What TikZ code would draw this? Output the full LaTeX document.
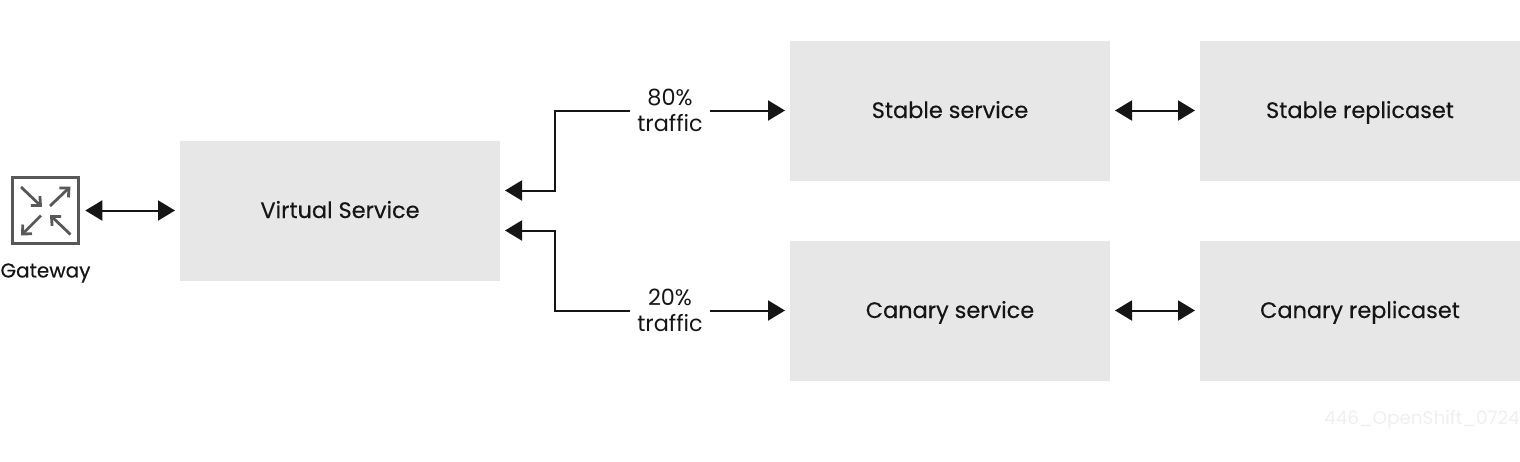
\documentclass[tikz,border=0pt]{standalone}
\usepackage{fontspec}
\setmainfont{Poppins}
\newfontfamily\boldish[FakeBold=0.35]{Poppins}
\usetikzlibrary{arrows.meta}
\definecolor{boxgray}{HTML}{E7E7E7}
\definecolor{inkblack}{HTML}{151515}
\definecolor{icongray}{HTML}{585858}
\definecolor{markgray}{HTML}{EFEFEF}
\begin{document}
\begin{tikzpicture}[x=1pt,y=-1pt,
    box/.style={fill=boxgray, minimum width=320pt, minimum height=140pt, inner sep=0pt, outer sep=5pt, text=inkblack, text height=15pt, text depth=0pt, font=\boldish\fontsize{22.4}{26}\selectfont},
    share/.style={minimum width=80pt, inner sep=0pt, outer sep=0pt, align=center, text=inkblack, font=\fontsize{22.4}{26}\selectfont},
    link/.style={draw=inkblack, line width=2pt, {Triangle[length=17pt,width=20pt]}-{Triangle[length=17pt,width=20pt]}},
    flow/.style={draw=inkblack, line width=2pt, -{Triangle[length=17pt,width=20pt]}},
    pointer/.style={draw=icongray, line width=2.8pt, -{Straight Barb[length=7pt,width=13pt]}}]
        \useasboundingbox (0,0) rectangle (1520,461);

        \node[draw=icongray, line width=3.6pt, minimum size=66pt, inner sep=0pt, outer sep=6.8pt] (gw) at (45.5,210.5) {};
        \draw[pointer] (21,187) -- (42,207);
        \draw[pointer] (50,206) -- (70.5,186.5);
        \draw[pointer] (41,215.5) -- (21,235.5);
        \draw[pointer] (70.5,234.5) -- (50,215);
        \node[text=inkblack, font=\boldish\fontsize{20}{24}\selectfont] (gwlabel) at (45.5,273) {Gateway};

        \node[box] (vs)  at (340,210.5)  {Virtual Service};
        \node[box] (ss)  at (950,110.5)  {Stable service};
        \node[box] (sr)  at (1360,110.5) {Stable replicaset};
        \node[box] (cs)  at (950,310.5)  {Canary service};
        \node[box] (cr)  at (1360,310.5) {Canary replicaset};

        \node[share] (p80) at (670,110.5) {80\%\\traffic};
        \node[share] (p20) at (670,310.5) {20\%\\traffic};

        \coordinate (vsup)   at (505,190.5);
        \coordinate (vsdown) at (505,230.5);

        \draw[link] (gw.east |- vs) -- (vs);
        \draw[link] (ss) -- (sr);
        \draw[link] (cs) -- (cr);
        \draw[flow] (p80) -- (ss);
        \draw[flow] (p20) -- (cs);
        \draw[flow] (p80.west) -- (555,110.5) -- (555,190.5) -- (vsup);
        \draw[flow] (p20.west) -- (555,310.5) -- (555,230.5) -- (vsdown);

        \node[anchor=east, inner sep=0pt, text=markgray, font=\fontsize{18.4}{22}\selectfont] (mark) at (1520,420) {446\_OpenShift\_0724};
        \end{tikzpicture}
\end{document}
